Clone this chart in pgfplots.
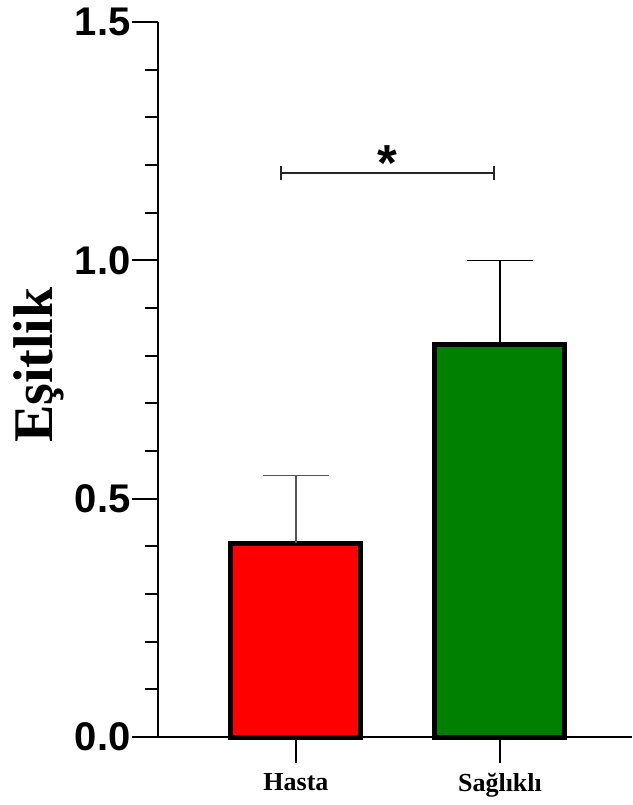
\documentclass[border=0pt]{standalone}
\usepackage{fontspec}
\setmainfont{Liberation Serif}
\setsansfont{Liberation Sans}
\usepackage{pgfplots}
\pgfplotsset{compat=1.18}
\definecolor{barred}{RGB}{255,0,0}
\definecolor{bargreen}{RGB}{0,128,0}
\definecolor{errgray}{RGB}{85,85,85}
\begin{document}
\begin{tikzpicture}
\useasboundingbox (-118.5pt,-51pt) rectangle (355.5pt,552.75pt);
\begin{axis}[
  at={(0,0)}, anchor=south west,
  scale only axis,
  width=355.5pt, height=536.25pt,
  xmin=-0.676, xmax=1.647,
  ymin=0, ymax=1.5,
  axis lines*=left,
  axis line style={-, line width=1.5pt},
  xtick={0,1}, xticklabels={Hasta,Sağlıklı},
  ytick={0,0.5,1,1.5},
  minor y tick num=4,
  tick align=outside,
  major tick length=19.5pt,
  minor tick length=9.75pt,
  tick style={line width=1.5pt, black},
  /pgf/number format/assume math mode=true,
  /pgf/number format/.cd, fixed, fixed zerofill, precision=1, /pgfplots/.cd,
  yticklabel style={font=\sffamily\bfseries\fontsize{30}{32}\selectfont, inner xsep=1pt},
  xticklabel style={font=\bfseries\fontsize{19.5}{22}\selectfont, yshift=-4pt},
  ylabel={Eşitlik},
  ylabel style={font=\bfseries\fontsize{42}{44}\selectfont, at={(axis description cs:-0.252,0.52)}, anchor=center},
  clip=false,
]
\addplot[ybar, bar shift=0pt, bar width=97.5pt, fill=barred, draw=black, line width=3.75pt,
  error bars/.cd, y dir=plus, y explicit,
  error bar style={line width=1.2pt, errgray},
  error mark options={rotate=90, mark size=24.75pt, line width=1.2pt, errgray}]
  coordinates {(0,0.406) +- (0,0.143)};
\addplot[ybar, bar shift=0pt, bar width=97.5pt, fill=bargreen, draw=black, line width=3.75pt,
  error bars/.cd, y dir=plus, y explicit,
  error bar style={line width=1.2pt, black},
  error mark options={rotate=90, mark size=24.75pt, line width=1.2pt, black}]
  coordinates {(1,0.824) +- (0,0.176)};
\addplot[black!85, line width=1.2pt, mark=|, mark size=5.25pt, mark options={line width=1.8pt}]
  coordinates {(-0.0735,1.183) (0.97,1.183)};
\node[font=\sffamily\bfseries\fontsize{38}{40}\selectfont, inner sep=0pt] at (axis cs:0.45,1.205) {*};
\end{axis}
\end{tikzpicture}
\end{document}
